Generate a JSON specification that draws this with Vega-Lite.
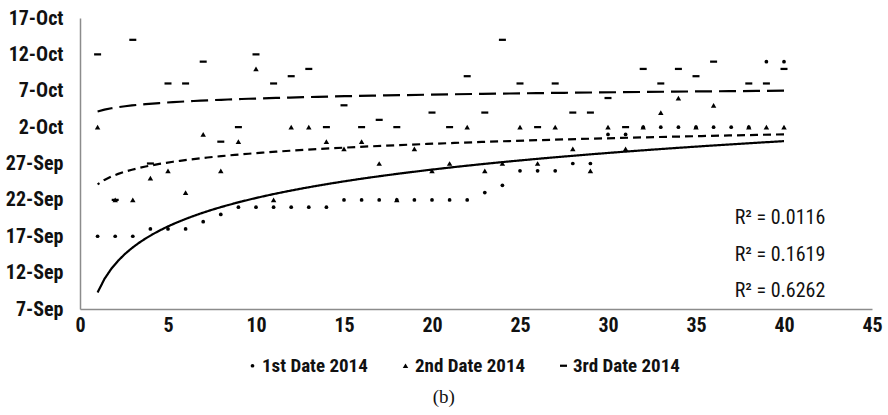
{
  "$schema": "https://vega.github.io/schema/vega-lite/v6.json",
  "width": 792,
  "height": 291,
  "autosize": {"type": "none"},
  "padding": {"left": 80, "top": 18, "right": 16, "bottom": 106},
  "background": "white",
  "config": {
    "view": {"stroke": null},
    "axis": {
      "labelFont": "Liberation Sans Narrow, Roboto Condensed, Roboto",
      "labelFontSize": 20,
      "labelFontWeight": "bold",
      "labelColor": "#111111",
      "labelOverlap": false,
      "domainColor": "#8c8c8c",
      "domainWidth": 1.5,
      "ticks": false,
      "grid": false,
      "title": null
    }
  },
  "title": {
    "text": "(b)",
    "orient": "bottom",
    "anchor": "middle",
    "frame": "bounds",
    "font": "Liberation Serif",
    "fontSize": 19,
    "fontWeight": "normal",
    "color": "#111111",
    "offset": 12
  },
  "datasets": {
    "points": [
      {"series": "1st Date 2014", "x": 1, "date": "2014/09/17"},
      {"series": "1st Date 2014", "x": 2, "date": "2014/09/17"},
      {"series": "1st Date 2014", "x": 3, "date": "2014/09/17"},
      {"series": "1st Date 2014", "x": 4, "date": "2014/09/18"},
      {"series": "1st Date 2014", "x": 5, "date": "2014/09/18"},
      {"series": "1st Date 2014", "x": 6, "date": "2014/09/18"},
      {"series": "1st Date 2014", "x": 7, "date": "2014/09/19"},
      {"series": "1st Date 2014", "x": 8, "date": "2014/09/20"},
      {"series": "1st Date 2014", "x": 9, "date": "2014/09/21"},
      {"series": "1st Date 2014", "x": 10, "date": "2014/09/21"},
      {"series": "1st Date 2014", "x": 11, "date": "2014/09/21"},
      {"series": "1st Date 2014", "x": 12, "date": "2014/09/21"},
      {"series": "1st Date 2014", "x": 13, "date": "2014/09/21"},
      {"series": "1st Date 2014", "x": 14, "date": "2014/09/21"},
      {"series": "1st Date 2014", "x": 15, "date": "2014/09/22"},
      {"series": "1st Date 2014", "x": 16, "date": "2014/09/22"},
      {"series": "1st Date 2014", "x": 17, "date": "2014/09/22"},
      {"series": "1st Date 2014", "x": 18, "date": "2014/09/22"},
      {"series": "1st Date 2014", "x": 19, "date": "2014/09/22"},
      {"series": "1st Date 2014", "x": 20, "date": "2014/09/22"},
      {"series": "1st Date 2014", "x": 21, "date": "2014/09/22"},
      {"series": "1st Date 2014", "x": 22, "date": "2014/09/22"},
      {"series": "1st Date 2014", "x": 23, "date": "2014/09/23"},
      {"series": "1st Date 2014", "x": 24, "date": "2014/09/24"},
      {"series": "1st Date 2014", "x": 25, "date": "2014/09/26"},
      {"series": "1st Date 2014", "x": 26, "date": "2014/09/26"},
      {"series": "1st Date 2014", "x": 27, "date": "2014/09/26"},
      {"series": "1st Date 2014", "x": 28, "date": "2014/09/27"},
      {"series": "1st Date 2014", "x": 29, "date": "2014/09/27"},
      {"series": "1st Date 2014", "x": 30, "date": "2014/10/01"},
      {"series": "1st Date 2014", "x": 31, "date": "2014/10/01"},
      {"series": "1st Date 2014", "x": 32, "date": "2014/10/02"},
      {"series": "1st Date 2014", "x": 33, "date": "2014/10/02"},
      {"series": "1st Date 2014", "x": 34, "date": "2014/10/02"},
      {"series": "1st Date 2014", "x": 35, "date": "2014/10/02"},
      {"series": "1st Date 2014", "x": 36, "date": "2014/10/02"},
      {"series": "1st Date 2014", "x": 37, "date": "2014/10/02"},
      {"series": "1st Date 2014", "x": 38, "date": "2014/10/02"},
      {"series": "1st Date 2014", "x": 39, "date": "2014/10/11"},
      {"series": "1st Date 2014", "x": 40, "date": "2014/10/11"},
      {"series": "2nd Date 2014", "x": 1, "date": "2014/10/02"},
      {"series": "2nd Date 2014", "x": 2, "date": "2014/09/22"},
      {"series": "2nd Date 2014", "x": 3, "date": "2014/09/22"},
      {"series": "2nd Date 2014", "x": 4, "date": "2014/09/25"},
      {"series": "2nd Date 2014", "x": 5, "date": "2014/09/26"},
      {"series": "2nd Date 2014", "x": 6, "date": "2014/09/23"},
      {"series": "2nd Date 2014", "x": 7, "date": "2014/10/01"},
      {"series": "2nd Date 2014", "x": 8, "date": "2014/09/26"},
      {"series": "2nd Date 2014", "x": 9, "date": "2014/09/30"},
      {"series": "2nd Date 2014", "x": 10, "date": "2014/10/10"},
      {"series": "2nd Date 2014", "x": 11, "date": "2014/09/22"},
      {"series": "2nd Date 2014", "x": 12, "date": "2014/10/02"},
      {"series": "2nd Date 2014", "x": 13, "date": "2014/10/02"},
      {"series": "2nd Date 2014", "x": 14, "date": "2014/09/30"},
      {"series": "2nd Date 2014", "x": 15, "date": "2014/09/29"},
      {"series": "2nd Date 2014", "x": 16, "date": "2014/09/30"},
      {"series": "2nd Date 2014", "x": 17, "date": "2014/09/27"},
      {"series": "2nd Date 2014", "x": 18, "date": "2014/09/22"},
      {"series": "2nd Date 2014", "x": 19, "date": "2014/09/29"},
      {"series": "2nd Date 2014", "x": 20, "date": "2014/09/26"},
      {"series": "2nd Date 2014", "x": 21, "date": "2014/09/27"},
      {"series": "2nd Date 2014", "x": 22, "date": "2014/10/02"},
      {"series": "2nd Date 2014", "x": 23, "date": "2014/09/26"},
      {"series": "2nd Date 2014", "x": 24, "date": "2014/09/27"},
      {"series": "2nd Date 2014", "x": 25, "date": "2014/10/02"},
      {"series": "2nd Date 2014", "x": 26, "date": "2014/09/27"},
      {"series": "2nd Date 2014", "x": 27, "date": "2014/10/02"},
      {"series": "2nd Date 2014", "x": 28, "date": "2014/09/29"},
      {"series": "2nd Date 2014", "x": 29, "date": "2014/09/26"},
      {"series": "2nd Date 2014", "x": 30, "date": "2014/10/02"},
      {"series": "2nd Date 2014", "x": 31, "date": "2014/09/29"},
      {"series": "2nd Date 2014", "x": 32, "date": "2014/10/02"},
      {"series": "2nd Date 2014", "x": 33, "date": "2014/10/04"},
      {"series": "2nd Date 2014", "x": 34, "date": "2014/10/06"},
      {"series": "2nd Date 2014", "x": 35, "date": "2014/10/02"},
      {"series": "2nd Date 2014", "x": 36, "date": "2014/10/05"},
      {"series": "2nd Date 2014", "x": 38, "date": "2014/10/02"},
      {"series": "2nd Date 2014", "x": 39, "date": "2014/10/02"},
      {"series": "2nd Date 2014", "x": 40, "date": "2014/10/02"},
      {"series": "3rd Date 2014", "x": 1, "date": "2014/10/12"},
      {"series": "3rd Date 2014", "x": 2, "date": "2014/09/22"},
      {"series": "3rd Date 2014", "x": 3, "date": "2014/10/14"},
      {"series": "3rd Date 2014", "x": 4, "date": "2014/09/27"},
      {"series": "3rd Date 2014", "x": 5, "date": "2014/10/08"},
      {"series": "3rd Date 2014", "x": 6, "date": "2014/10/08"},
      {"series": "3rd Date 2014", "x": 7, "date": "2014/10/11"},
      {"series": "3rd Date 2014", "x": 8, "date": "2014/09/30"},
      {"series": "3rd Date 2014", "x": 9, "date": "2014/10/02"},
      {"series": "3rd Date 2014", "x": 10, "date": "2014/10/12"},
      {"series": "3rd Date 2014", "x": 11, "date": "2014/10/08"},
      {"series": "3rd Date 2014", "x": 12, "date": "2014/10/09"},
      {"series": "3rd Date 2014", "x": 13, "date": "2014/10/10"},
      {"series": "3rd Date 2014", "x": 14, "date": "2014/10/02"},
      {"series": "3rd Date 2014", "x": 15, "date": "2014/10/05"},
      {"series": "3rd Date 2014", "x": 16, "date": "2014/10/02"},
      {"series": "3rd Date 2014", "x": 17, "date": "2014/10/03"},
      {"series": "3rd Date 2014", "x": 18, "date": "2014/10/02"},
      {"series": "3rd Date 2014", "x": 20, "date": "2014/10/04"},
      {"series": "3rd Date 2014", "x": 21, "date": "2014/10/02"},
      {"series": "3rd Date 2014", "x": 22, "date": "2014/10/09"},
      {"series": "3rd Date 2014", "x": 23, "date": "2014/10/04"},
      {"series": "3rd Date 2014", "x": 24, "date": "2014/10/14"},
      {"series": "3rd Date 2014", "x": 25, "date": "2014/10/08"},
      {"series": "3rd Date 2014", "x": 26, "date": "2014/10/02"},
      {"series": "3rd Date 2014", "x": 27, "date": "2014/10/08"},
      {"series": "3rd Date 2014", "x": 28, "date": "2014/10/04"},
      {"series": "3rd Date 2014", "x": 29, "date": "2014/10/04"},
      {"series": "3rd Date 2014", "x": 30, "date": "2014/10/06"},
      {"series": "3rd Date 2014", "x": 31, "date": "2014/10/02"},
      {"series": "3rd Date 2014", "x": 32, "date": "2014/10/10"},
      {"series": "3rd Date 2014", "x": 33, "date": "2014/10/08"},
      {"series": "3rd Date 2014", "x": 34, "date": "2014/10/10"},
      {"series": "3rd Date 2014", "x": 35, "date": "2014/10/09"},
      {"series": "3rd Date 2014", "x": 36, "date": "2014/10/11"},
      {"series": "3rd Date 2014", "x": 38, "date": "2014/10/08"},
      {"series": "3rd Date 2014", "x": 39, "date": "2014/10/08"},
      {"series": "3rd Date 2014", "x": 40, "date": "2014/10/10"}
    ],
    "labels": [
      {"x": 37.2, "date": "2014/09/19 12:00", "label": "R² = 0.0116"},
      {"x": 37.2, "date": "2014/09/14 10:00", "label": "R² = 0.1619"},
      {"x": 37.2, "date": "2014/09/09 11:00", "label": "R² = 0.6262"}
    ]
  },
  "encoding": {
    "x": {
      "field": "x",
      "type": "quantitative",
      "scale": {"domain": [0, 45], "nice": false},
      "axis": {"values": [0, 5, 10, 15, 20, 25, 30, 35, 40, 45], "labelPadding": 6, "labelFlush": false, "labelOverlap": false}
    },
    "y": {
      "field": "date",
      "type": "temporal",
      "scale": {"domain": [{"year": 2014, "month": 9, "date": 7}, {"year": 2014, "month": 10, "date": 17}], "nice": false},
      "axis": {
        "values": [
          {"year": 2014, "month": 9, "date": 7},
          {"year": 2014, "month": 9, "date": 12},
          {"year": 2014, "month": 9, "date": 17},
          {"year": 2014, "month": 9, "date": 22},
          {"year": 2014, "month": 9, "date": 27},
          {"year": 2014, "month": 10, "date": 2},
          {"year": 2014, "month": 10, "date": 7},
          {"year": 2014, "month": 10, "date": 12},
          {"year": 2014, "month": 10, "date": 17}
        ],
        "format": "%-d-%b",
        "labelPadding": 17,
        "labelFlush": false,
        "labelOverlap": false,
        "labelSeparation": 0,
        "labelBound": false
      }
    }
  },
  "layer": [
    {
      "data": {"name": "points", "format": {"parse": {"date": "date"}}},
      "transform": [
        {"regression": "date", "on": "x", "groupby": ["series"], "method": "log", "extent": [1, 40]}
      ],
      "mark": {"type": "line", "color": "black", "strokeWidth": 2.2},
      "encoding": {
        "strokeDash": {
          "field": "series",
          "type": "nominal",
          "scale": {"domain": ["3rd Date 2014", "2nd Date 2014", "1st Date 2014"], "range": [[17, 7], [8, 5], [1, 0]]},
          "legend": null
        },
        "detail": {"field": "series"}
      }
    },
    {
      "data": {"name": "points", "format": {"parse": {"date": "date"}}},
      "mark": {"type": "point", "filled": true, "fill": "black", "opacity": 1, "strokeWidth": 0},
      "encoding": {
        "shape": {
          "field": "series",
          "type": "nominal",
          "scale": {"domain": ["1st Date 2014", "2nd Date 2014", "3rd Date 2014"], "range": ["circle", "triangle-up", "M-1,-0.32H1V0.32H-1Z"]},
          "legend": {
            "orient": "none",
            "legendX": 163,
            "legendY": 338,
            "direction": "horizontal",
            "title": null,
            "labelFont": "Liberation Sans Narrow, Roboto Condensed, Roboto",
            "labelFontSize": 19,
            "labelFontWeight": "bold",
            "labelColor": "#111111",
            "columnPadding": 28,
            "symbolFillColor": "black",
            "symbolStrokeWidth": 0,
            "labelOffset": 0
          }
        },
        "size": {
          "field": "series",
          "type": "nominal",
          "scale": {"type": "ordinal", "domain": ["1st Date 2014", "2nd Date 2014", "3rd Date 2014"], "range": [14, 30, 49]}
        }
      }
    },
    {
      "data": {"name": "labels", "format": {"parse": {"date": "date"}}},
      "mark": {"type": "text", "align": "left", "baseline": "middle", "font": "Liberation Sans Narrow, Roboto Condensed, Roboto", "fontSize": 20, "color": "#111111"},
      "encoding": {
        "text": {"field": "label"}
      }
    }
  ]
}
